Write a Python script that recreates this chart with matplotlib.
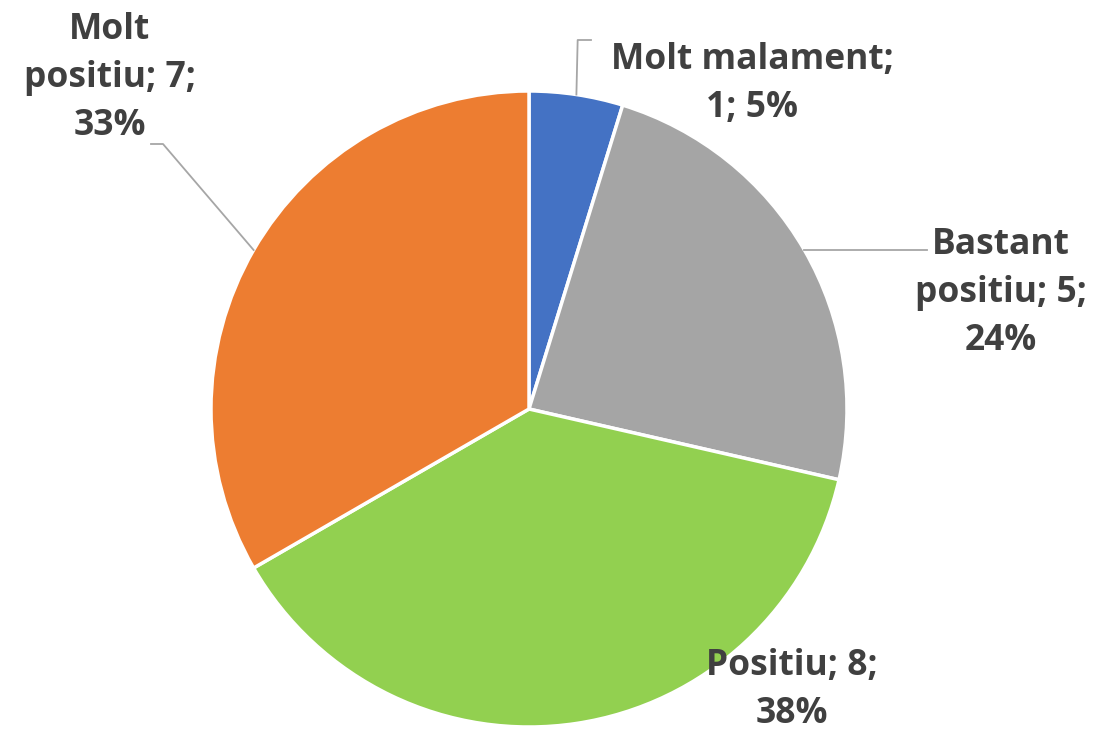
import numpy as np
import matplotlib.pyplot as plt

labels = ["Molt malament", "Bastant positiu", "Positiu", "Molt positiu"]
values = [1, 5, 8, 7]
colors = ["#4472C4", "#A5A5A5", "#92D050", "#ED7D31"]
# label text as shown on the chart (line breaks as in the picture)
label_text = ["Molt malament;\n1; 5%", "Bastant\npositiu; 5;\n24%",
              "Positiu; 8;\n38%", "Molt\npositiu; 7;\n33%"]

W, H = 1117, 732
cx, cy, R = 529, 409, 318   # pie centre and radius in pixels


def px(x, y):
    # pixel (from top-left) -> data coords, radius 1 == R pixels
    return (x - cx) / R, (H - y - (H - cy)) / R


fig = plt.figure(figsize=(W / 100, H / 100), dpi=100)
ax = fig.add_axes([0, 0, 1, 1])
ax.pie(values, colors=colors, startangle=90, counterclock=False, radius=1,
       wedgeprops=dict(edgecolor="white", linewidth=2.5))
ax.set_xlim(-cx / R, (W - cx) / R)
ax.set_ylim(-(H - cy) / R, cy / R)
ax.set_aspect("equal")
ax.axis("off")

# label centres (pixels)
lab_pos = [(752, 84), (1001, 293), (792, 690), (110, 78)]
for t, (x, y) in zip(label_text, lab_pos):
    ax.text(*px(x, y), t, ha="center", va="center", fontsize=25.5,
            fontweight="bold", color="#404040", family="Open Sans",
            linespacing=1.45)

# leader lines from mid-angle of each wedge
total = sum(values)
cum = np.cumsum([0] + values)
mid = [np.deg2rad(90 - (cum[i] + values[i] / 2) * 360 / total) for i in range(len(values))]
lc = "#A6A6A6"
# Molt malament
a = mid[0]
ax.plot([np.cos(a), np.cos(a) + 0.004, px(591, 40)[0]],
        [np.sin(a), px(0, 40)[1], px(0, 40)[1]], color=lc, lw=1.3)
# Bastant positiu
a = mid[1]
ax.plot([np.cos(a), px(927, 250)[0]], [np.sin(a), px(927, 250)[1]], color=lc, lw=1.3)
# Molt positiu
a = mid[3]
ax.plot([np.cos(a), px(163, 144)[0], px(151, 144)[0]],
        [np.sin(a), px(163, 144)[1], px(151, 144)[1]], color=lc, lw=1.3)

fig.savefig("out.png", dpi=100, facecolor="white")
